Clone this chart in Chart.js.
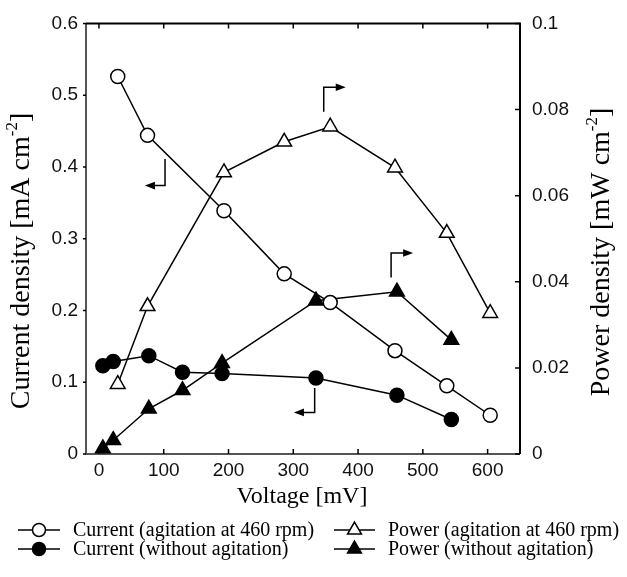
<!DOCTYPE html>
<html>
<head>
<meta charset="utf-8">
<script src="https://cdn.jsdelivr.net/npm/chart.js@4.4.1/dist/chart.umd.min.js"></script>
<style>
  html, body { margin: 0; padding: 0; background: #fff; }
</style>
</head>
<body>
<canvas id="graph" width="627" height="577"></canvas>
<script>
// voltage steps [mV] for each run
const voltageAgit = [29, 75, 193, 286, 357, 457, 537, 604];
const voltageNoAgit = [6, 22, 77, 129, 190, 335, 460, 544];
// current density [mA cm-2]
const currentAgit = [0.526, 0.444, 0.339, 0.251, 0.211, 0.144, 0.095, 0.054];
const currentNoAgit = [0.123, 0.129, 0.137, 0.114, 0.112, 0.106, 0.082, 0.048];
// power density [mW cm-2]
const powerAgit = [0.0162, 0.0343, 0.0654, 0.0725, 0.0760, 0.0665, 0.0513, 0.0327];
const powerNoAgit = [0.0013, 0.0032, 0.0105, 0.0148, 0.0211, 0.0356, 0.0377, 0.0265];
// tick labels
const voltageTicks = [0, 100, 200, 300, 400, 500, 600];
const currentTicks = [0, 0.1, 0.2, 0.3, 0.4, 0.5, 0.6];
const powerTicks = [0, 0.02, 0.04, 0.06, 0.08, 0.1];
const seriesLabels = [
  'Current (agitation at 460 rpm)',
  'Current (without agitation)',
  'Power (agitation at 460 rpm)',
  'Power (without agitation)'
];
// the little bent arrows pointing to the axis of each curve (in voltage / current units)
const axisArrows = [
  {x: 102, yStem: 0.411, y: 0.374, xTip: 71},
  {x: 333, yStem: 0.092, y: 0.058, xTip: 301},
  {x: 347, yStem: 0.477, y: 0.511, xTip: 381},
  {x: 451, yStem: 0.246, y: 0.280, xTip: 485}
];

const SERIF = '"Liberation Serif", "Times New Roman", serif';
const SANS = '"Liberation Sans", Arial, sans-serif';

function toPoints(xs, ys) {
  return xs.map((x, i) => ({x: x, y: ys[i]}));
}

function series(label, xs, ys, axis, style, filled) {
  const tri = style === 'triangle';
  return {
    label: label,
    data: toPoints(xs, ys),
    yAxisID: axis,
    showLine: true,
    borderColor: '#000',
    borderWidth: 1.5,
    pointStyle: style,
    pointRadius: tri ? 8.5 : 7,
    pointHoverRadius: tri ? 8.5 : 7,
    pointBorderWidth: 1.5,
    pointBorderColor: '#000',
    pointBackgroundColor: filled ? '#000' : '#fff',
    tension: 0
  };
}

function drawSupText(ctx, cx, cy, rot, size, main, sup, tail) {
  ctx.save();
  ctx.translate(cx, cy);
  ctx.rotate(rot);
  ctx.textBaseline = 'middle';
  ctx.textAlign = 'left';
  ctx.fillStyle = '#000';
  const big = size + 'px ' + SERIF;
  const small = Math.round(size * 0.6) + 'px ' + SERIF;
  ctx.font = big;
  const w1 = ctx.measureText(main).width;
  const w3 = ctx.measureText(tail).width;
  ctx.font = small;
  const w2 = ctx.measureText(sup).width;
  let x = -(w1 + w2 + w3) / 2;
  ctx.font = big; ctx.fillText(main, x, 0); x += w1;
  ctx.font = small; ctx.fillText(sup, x, -size * 0.33); x += w2;
  ctx.font = big; ctx.fillText(tail, x, 0);
  ctx.restore();
}

const decor = {
  id: 'decor',
  beforeDatasetsDraw(chart) {
    const {ctx, chartArea: a, scales} = chart;
    ctx.save();
    ctx.lineCap = 'butt';
    // frame
    ctx.lineWidth = 2;
    ctx.strokeStyle = '#555';
    ctx.beginPath();
    ctx.moveTo(a.left, a.top); ctx.lineTo(a.left, a.bottom); ctx.lineTo(a.right, a.bottom);
    ctx.stroke();
    ctx.strokeStyle = '#000';
    ctx.beginPath();
    ctx.moveTo(a.left, a.top); ctx.lineTo(a.right, a.top); ctx.lineTo(a.right, a.bottom);
    ctx.stroke();
    // tick marks
    ctx.lineWidth = 1.5;
    ctx.beginPath();
    for (const t of scales.x.ticks) {
      const px = scales.x.getPixelForValue(t.value);
      ctx.moveTo(px, a.bottom); ctx.lineTo(px, a.bottom - 5);
      ctx.moveTo(px, a.top); ctx.lineTo(px, a.top + 5);
    }
    for (const t of scales.y.ticks) {
      const py = scales.y.getPixelForValue(t.value);
      ctx.moveTo(a.left, py); ctx.lineTo(a.left - 3, py);
    }
    for (const t of scales.y2.ticks) {
      const py = scales.y2.getPixelForValue(t.value);
      ctx.moveTo(a.right, py); ctx.lineTo(a.right - 5, py);
    }
    ctx.stroke();
    ctx.restore();
  },
  afterDatasetsDraw(chart) {
    const {ctx, scales} = chart;
    ctx.save();
    ctx.strokeStyle = '#000';
    ctx.fillStyle = '#000';
    ctx.lineWidth = 1.5;
    for (const ar of axisArrows) {
      const x = scales.x.getPixelForValue(ar.x);
      const y = scales.y.getPixelForValue(ar.y);
      const y0 = scales.y.getPixelForValue(ar.yStem);
      const tip = scales.x.getPixelForValue(ar.xTip);
      const dir = tip > x ? 1 : -1;
      ctx.beginPath();
      ctx.moveTo(x, y0); ctx.lineTo(x, y); ctx.lineTo(tip - dir * 8, y);
      ctx.stroke();
      ctx.beginPath();
      ctx.moveTo(tip, y); ctx.lineTo(tip - dir * 10, y - 3.8); ctx.lineTo(tip - dir * 10, y + 3.8);
      ctx.closePath();
      ctx.fill();
    }
    ctx.restore();
  },
  afterDraw(chart) {
    const {ctx} = chart;
    // axis titles
    drawSupText(ctx, 22, 261, -Math.PI / 2, 28, 'Current density [mA cm', '-2', ']');
    drawSupText(ctx, 602, 252, -Math.PI / 2, 28, 'Power density [mW cm', '-2', ']');
    ctx.save();
    ctx.fillStyle = '#000';
    ctx.font = '24px ' + SERIF;
    ctx.textAlign = 'center';
    ctx.textBaseline = 'middle';
    ctx.fillText('Voltage [mV]', 302, 497);
    // legend, two columns
    const cols = [{x0: 18, x1: 60, tx: 73}, {x0: 334, x1: 375, tx: 388}];
    const rows = [530, 549];
    const order = [[0, 0, 0], [2, 1, 0], [1, 0, 1], [3, 1, 1]];
    ctx.font = '20px ' + SERIF;
    ctx.textAlign = 'left';
    for (const [di, c, r] of order) {
      const ds = chart.data.datasets[di];
      const col = cols[c], y = rows[r];
      ctx.strokeStyle = '#000';
      ctx.lineWidth = 1.5;
      ctx.beginPath();
      ctx.moveTo(col.x0, y); ctx.lineTo(col.x1, y);
      ctx.stroke();
      ctx.fillStyle = ds.pointBackgroundColor;
      Chart.helpers.drawPoint(ctx, {
        pointStyle: ds.pointStyle,
        radius: ds.pointStyle === 'triangle' ? 8 : 6.5,
        borderWidth: 1.5,
        rotation: 0
      }, (col.x0 + col.x1) / 2, y);
      ctx.fillStyle = '#000';
      ctx.fillText(ds.label, col.tx, y + 1);
    }
    ctx.restore();
  }
};

function fixedTicks(values) {
  return scale => { scale.ticks = values.map(v => ({value: v})); };
}

const chart = new Chart('graph', {
  type: 'scatter',
  data: {
    datasets: [
      series(seriesLabels[0], voltageAgit, currentAgit, 'y', 'circle', false),
      series(seriesLabels[1], voltageNoAgit, currentNoAgit, 'y', 'circle', true),
      series(seriesLabels[2], voltageAgit, powerAgit, 'y2', 'triangle', false),
      series(seriesLabels[3], voltageNoAgit, powerNoAgit, 'y2', 'triangle', true)
    ]
  },
  options: {
    responsive: false,
    devicePixelRatio: 1,
    animation: false,
    layout: {padding: {top: 17, bottom: 65, left: 0, right: 0}},
    plugins: {legend: {display: false}, tooltip: {enabled: false}},
    scales: {
      x: {
        type: 'linear',
        position: 'bottom',
        min: -20,
        max: 650,
        afterBuildTicks: fixedTicks(voltageTicks),
        afterFit: s => { s.height = 58; },
        grid: {display: false, drawTicks: false},
        border: {display: false},
        ticks: {font: {family: SANS, size: 19}, color: '#111', padding: 5, maxRotation: 0, autoSkip: false}
      },
      y: {
        type: 'linear',
        position: 'left',
        min: 0,
        max: 0.6,
        afterBuildTicks: fixedTicks(currentTicks),
        afterFit: s => { s.width = 86; },
        grid: {display: false, drawTicks: false},
        border: {display: false},
        ticks: {font: {family: SANS, size: 19}, color: '#111', padding: 8, callback: v => String(v)}
      },
      y2: {
        type: 'linear',
        position: 'right',
        min: 0,
        max: 0.1,
        afterBuildTicks: fixedTicks(powerTicks),
        afterFit: s => { s.width = 107; },
        grid: {display: false, drawTicks: false},
        border: {display: false},
        ticks: {font: {family: SANS, size: 19}, color: '#111', padding: 12, callback: v => String(v)}
      }
    }
  },
  plugins: [decor]
});
</script>
</body>
</html>
